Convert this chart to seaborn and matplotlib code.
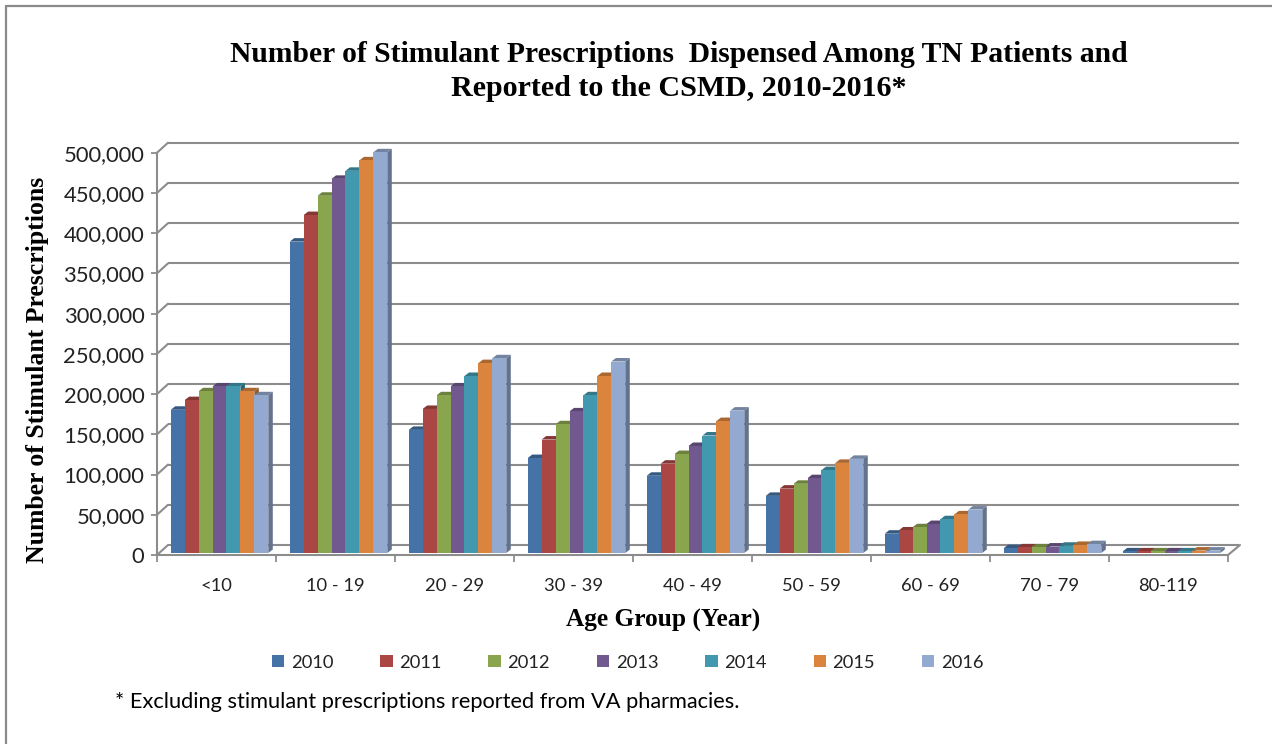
import pandas as pd
import matplotlib.pyplot as plt
from matplotlib.lines import Line2D
from matplotlib.patches import Polygon
from matplotlib.ticker import FuncFormatter, MultipleLocator
from matplotlib.transforms import ScaledTranslation
import seaborn as sns

age_groups = ["<10", "10 - 19", "20 - 29", "30 - 39", "40 - 49", "50 - 59", "60 - 69", "70 - 79", "80-119"]
years = ["2010", "2011", "2012", "2013", "2014", "2015", "2016"]
colors = ["#4572A7", "#AA4643", "#89A54E", "#71588F", "#4198AF", "#DB843D", "#93A9CF"]

rx_2010 = [178000, 387000, 153000, 118000, 96000, 71000, 24000, 6000, 2000]
rx_2011 = [190000, 420000, 179000, 141000, 111000, 80000, 28000, 7000, 2000]
rx_2012 = [201000, 444000, 196000, 160000, 123000, 86000, 32000, 7000, 2000]
rx_2013 = [207000, 465000, 207000, 176000, 133000, 93000, 36000, 8000, 2000]
rx_2014 = [207000, 475000, 220000, 196000, 146000, 103000, 42000, 9000, 2000]
rx_2015 = [201000, 488000, 236000, 220000, 164000, 112000, 48000, 10000, 3000]
rx_2016 = [196000, 498000, 242000, 238000, 177000, 117000, 54000, 11000, 3000]
all_years = [rx_2010, rx_2011, rx_2012, rx_2013, rx_2014, rx_2015, rx_2016]

W, H = 1272, 744
GRID = "#8C8C8C"


def fx(px):
    return px / W


def fy(py):
    return 1 - py / H


def build_table():
    rows = []
    for year, values in zip(years, all_years):
        for group, value in zip(age_groups, values):
            rows.append({"group": group, "year": year, "count": value})
    return pd.DataFrame(rows)


def add_depth(ax, fig):
    """
    Shift the seaborn bars onto the chart floor and add top and side faces.
    """
    shift = ax.transData + ScaledTranslation(3 / 100, 2 / 100, fig.dpi_scale_trans)
    dx = 4.5 / 119
    dy = 3.5 / (402.3 / 500000)
    order = 10
    for i in range(len(age_groups)):
        for container in ax.containers:
            bar = container.patches[i]
            x0, x1 = bar.get_x(), bar.get_x() + bar.get_width()
            y0, y1 = 0, bar.get_height()
            color = bar.get_facecolor()
            dark = tuple(c * 0.78 for c in color[:3])
            darker = tuple(c * 0.68 for c in color[:3])
            top = Polygon([(x0, y1), (x1, y1), (x1 + dx, y1 + dy), (x0 + dx, y1 + dy)],
                          facecolor=dark, edgecolor="none", transform=shift, zorder=order, clip_on=False)
            side = Polygon([(x1, y0), (x1 + dx, y0 + dy), (x1 + dx, y1 + dy), (x1, y1)],
                           facecolor=darker, edgecolor="none", transform=shift, zorder=order, clip_on=False)
            ax.add_patch(top)
            ax.add_patch(side)
            bar.set_transform(shift)
            bar.set_zorder(order + 1)
            bar.set_clip_on(False)
            order += 2


def draw_walls(ax, fig):
    """
    Back-wall gridlines and the slanted lines joining them to the front axes.
    """
    back = ax.transData + ScaledTranslation(11 / 100, 10 / 100, fig.dpi_scale_trans)
    ticks = list(range(0, 500001, 50000))
    ax.hlines(ticks, -0.5, 8.5, colors=GRID, linewidth=1.5, transform=back, zorder=1, clip_on=False)
    for value in ticks:
        py = 555 - value * 402.3 / 500000
        fig.add_artist(Line2D([fx(157), fx(168)], [fy(py), fy(py - 10)], color=GRID, lw=1.5))
    fig.add_artist(Line2D([fx(1228), fx(1240)], [fy(555), fy(545)], color=GRID, lw=1.5))


def plot_chart(output_file):
    df = build_table()
    sns.set_style("white")
    plt.rcParams["font.family"] = ["Lato", "DejaVu Sans"]

    fig = plt.figure(figsize=(12.72, 7.44), dpi=100)
    ax = fig.add_axes([fx(157), fy(555), fx(1228 - 157), (555 - 152.7) / H])

    sns.barplot(data=df, x="group", y="count", hue="year", order=age_groups, hue_order=years,
                palette=colors, saturation=1, width=0.82, gap=0, linewidth=0, ax=ax)

    ax.set_xlim(-0.5, 8.5)
    ax.set_ylim(0, 500000)
    add_depth(ax, fig)
    draw_walls(ax, fig)

    for name in ["top", "right"]:
        ax.spines[name].set_visible(False)
    for name in ["left", "bottom"]:
        ax.spines[name].set_color(GRID)
        ax.spines[name].set_linewidth(1.5)
        ax.spines[name].set_zorder(200)

    ax.yaxis.set_major_locator(MultipleLocator(50000))
    ax.yaxis.set_major_formatter(FuncFormatter(lambda v, _: f"{int(v):,}"))
    ax.tick_params(axis="y", left=True, length=4, width=1.3, color=GRID, labelsize=15.8,
                   labelcolor="#222222", pad=5)
    ax.xaxis.set_minor_locator(MultipleLocator(1, offset=0.5))
    ax.tick_params(axis="x", which="minor", bottom=True, length=5, width=1.3, color=GRID)
    ax.tick_params(axis="x", which="major", bottom=False, labelsize=13.2, labelcolor="#222222", pad=13)

    ax.set_xlabel("")
    ax.set_ylabel("")
    fig.text(fx(663), fy(620), "Age Group (Year)", family="Liberation Serif", weight="bold",
             fontsize=18.3, ha="center", va="center", color="black")
    fig.text(fx(38), fy(370), "Number of Stimulant Prescriptions", family="Liberation Serif", weight="bold",
             fontsize=18.5, rotation=90, ha="center", va="center", color="black")
    fig.text(fx(679), fy(54), "Number of Stimulant Prescriptions  Dispensed Among TN Patients and",
             family="Liberation Serif", weight="bold", fontsize=21.3, ha="center", va="center", color="black")
    fig.text(fx(679), fy(89), "Reported to the CSMD, 2010-2016*",
             family="Liberation Serif", weight="bold", fontsize=21.6, ha="center", va="center", color="black")
    fig.text(fx(115), fy(702), "* Excluding stimulant prescriptions reported from VA pharmacies.",
             fontsize=15.7, ha="left", va="center", color="black")

    sns.move_legend(ax, "center", bbox_to_anchor=(0.5 * (273 + 982) / W, fy(662.5)),
                    bbox_transform=fig.transFigure, ncol=7, frameon=False, title=None,
                    fontsize=13.2, handlelength=0.68, handleheight=0.68, handletextpad=0.35,
                    columnspacing=2.56, labelcolor="#222222")

    # picture frame: only the top and left edges show
    fig.add_artist(Line2D([fx(6), fx(6)], [fy(6), fy(H)], color="#8A8A8A", lw=1.6))
    fig.add_artist(Line2D([fx(6), fx(W)], [fy(6), fy(6)], color="#8A8A8A", lw=1.6))

    fig.savefig(output_file, dpi=100)


if __name__ == "__main__":
    plot_chart("out.png")
